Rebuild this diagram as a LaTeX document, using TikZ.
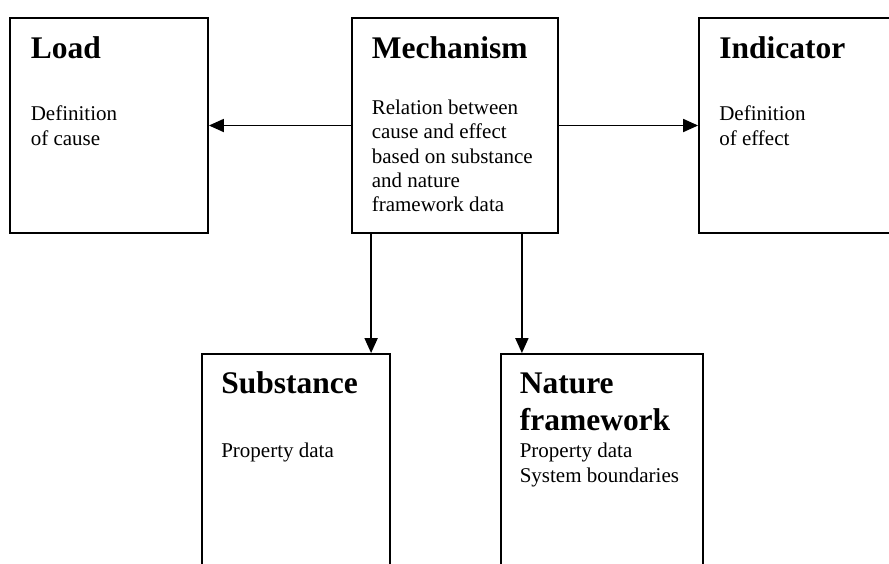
\documentclass[tikz,border=0pt]{standalone}
\usepackage{fontspec}
\setmainfont{Liberation Serif}
\usetikzlibrary{positioning,calc,arrows.meta}

\tikzset{
  box/.style={draw, line width=1.8pt, minimum width=198pt, inner sep=0pt},
  title/.style={anchor=base west, inner sep=0pt, align=left,
    font=\fontsize{31.5}{37}\selectfont\bfseries},
  body/.style={anchor=base west, inner sep=0pt, align=left,
    font=\fontsize{21}{24.3}\selectfont},
  arr/.style={line width=1.8pt, -{Triangle[length=15pt,width=13pt]}}
}

\begin{document}
\begin{tikzpicture}[x=1pt,y=-1pt]

\useasboundingbox (0,0) rectangle (889,563);

% top row
\node[box, minimum height=215pt] (load) at (109,125.5) {};
\node[box, minimum height=215pt, minimum width=206pt] (mech) at (455,125.5) {};
\node[box, minimum height=215pt] (ind) at (798,125.5) {};

% bottom row
\node[box, minimum height=230pt, minimum width=188pt] (subst) at (296,469) {};
\node[box, minimum height=230pt, minimum width=202pt] (nat) at (602,469) {};

% texts (base = last line)
\node[title] (loadT) at ($(load.north west)+(21.5,41)$) {Load};
\node[body] (loadB) at ($(load.north west)+(21.5,128)$) {Definition\\of cause};

\node[title] (mechT) at ($(mech.north west)+(20.5,41)$) {Mechanism};
\node[body] (mechB) at ($(mech.north west)+(20.5,194.5)$)
  {Relation between\\cause and effect\\based on substance\\and nature\\framework data};

\node[title] (indT) at ($(ind.north west)+(21,41)$) {Indicator};
\node[body] (indB) at ($(ind.north west)+(21,128)$) {Definition\\of effect};

\node[title] (substT) at ($(subst.north west)+(20,40)$) {Substance};
\node[body] (substB) at ($(subst.north west)+(20,104)$) {Property data};

\node[title] (natT) at ($(nat.north west)+(19.5,77)$) {Nature\\framework};
\node[body] (natB) at ($(nat.north west)+(19.5,129)$) {Property data\\System boundaries};

% connectors
\draw[arr] (mech.west) -- (load.east);
\draw[arr] (mech.east) -- (ind.west);

\coordinate (m1) at ($(mech.south west)+(20,0)$);
\coordinate (m2) at ($(mech.south east)+(-37,0)$);
\draw[arr] (m1) -- (m1 |- subst.north);
\draw[arr] (m2) -- (m2 |- nat.north);

\end{tikzpicture}
\end{document}
